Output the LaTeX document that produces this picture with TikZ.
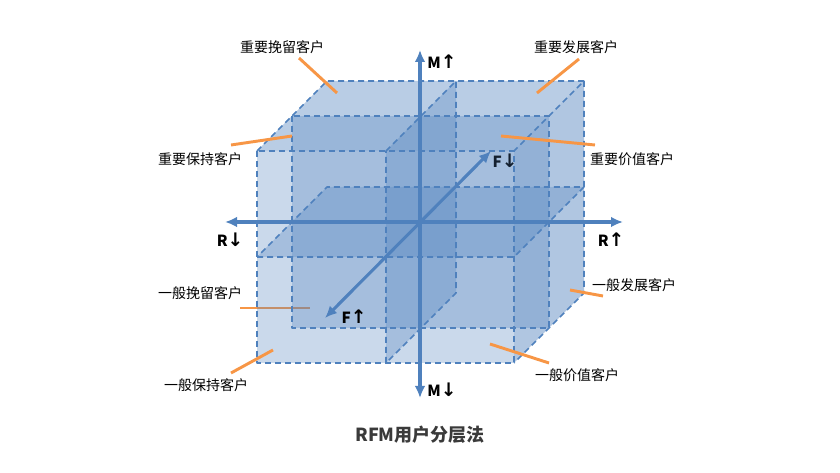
\documentclass[tikz,border=0pt]{standalone}
\usepackage{fontspec}
\setmainfont{Noto Sans CJK SC}
\newfontfamily\arrowfont{DejaVu Sans}
\usetikzlibrary{arrows.meta}
\definecolor{rfmblue}{HTML}{4F81BD}
\definecolor{rfmorange}{HTML}{F79646}
\definecolor{rfmtitle}{HTML}{3A3A3A}
\newcommand{\up}{{\arrowfont\bfseries\fontsize{14}{14}\selectfont ↑}}
\newcommand{\dn}{{\arrowfont\bfseries\fontsize{14}{14}\selectfont ↓}}

\begin{document}
\begin{tikzpicture}[x=0.75pt, y=-0.75pt, line join=bevel,
>={Latex[length=9pt,width=8pt]},
plane/.style={fill=rfmblue, fill opacity=#1},
plane/.default=0.3,
dashedge/.style={draw=rfmblue, line width=1.2pt, dash pattern=on 4.5pt off 3pt},
rfmaxis/.style={rfmblue, line width=2.3pt, <->},
lead/.style={rfmorange, line width=2.2pt},
seg/.style={font=\fontsize{10.5}{12}\selectfont, inner sep=0pt},
axlabel/.style={font=\fontsize{11.5}{13}\selectfont\bfseries, inner sep=0pt},
]
\useasboundingbox (0,0) rectangle (840,473);

% cube corners
\coordinate (f1) at (257,151); \coordinate (f2) at (514,151);
\coordinate (f3) at (514,363); \coordinate (f4) at (257,363);
\coordinate (b1) at (327,81);  \coordinate (b2) at (584,81);
\coordinate (b3) at (584,293);
% middle cuts
\coordinate (d1) at (292,116); \coordinate (d3) at (549,328);
\coordinate (h1) at (257,257); \coordinate (h2) at (514,257);
\coordinate (h3) at (584,187); \coordinate (h4) at (327,187);
\coordinate (v1) at (386,151); \coordinate (v2) at (456,81);
\coordinate (v3) at (456,293); \coordinate (v4) at (386,363);

% segment labels
\node[seg] (rr) at (282,47)  {重要挽留客户};
\node[seg] (rd) at (576,47)  {重要发展客户};
\node[seg] (rk) at (200,159) {重要保持客户};
\node[seg] (rv) at (632,159) {重要价值客户};
\node[seg] (gr) at (200,293) {一般挽留客户};
\node[seg] (gd) at (634,285) {一般发展客户};
\node[seg] (gk) at (206,385) {一般保持客户};
\node[seg] (gv) at (577,375) {一般价值客户};

\coordinate (gr1) at (240,308); \coordinate (gr2) at (310,308);
\draw[lead] (gr1) -- (gr2); % behind the front face

% planes
\fill[plane=0.4] (f1) -- (b1) -- (b2) -- (f2) -- cycle;
\fill[plane=0.45] (f2) -- (b2) -- (b3) -- (f3) -- cycle;
\fill[plane] (h1) -- (h2) -- (h3) -- (h4) -- cycle;
\fill[plane] (v1) -- (v2) -- (v3) -- (v4) -- cycle;
\fill[plane] (d1) rectangle (d3);
\fill[plane] (f1) rectangle (f3);

\draw[dashedge] (f1) -- (b1) -- (b2) -- (f2);
\draw[dashedge] (b2) -- (b3) -- (f3);
\draw[dashedge] (h1) -- (h2) -- (h3) -- (h4) -- cycle;
\draw[dashedge] (v1) -- (v2) -- (v3) -- (v4) -- cycle;
\draw[dashedge] (d1) rectangle (d3);
\draw[dashedge] (f1) rectangle (f3);

% leaders
\coordinate (rr1) at (299,58);  \coordinate (rr2) at (337,93);
\coordinate (rd1) at (579,59);  \coordinate (rd2) at (537,93);
\coordinate (rk1) at (231,145); \coordinate (rk2) at (292,136);
\coordinate (rv1) at (595,145); \coordinate (rv2) at (501,136);
\coordinate (gd1) at (603,296); \coordinate (gd2) at (570,290);
\coordinate (gk1) at (231,373); \coordinate (gk2) at (273,350);
\coordinate (gv1) at (549,363); \coordinate (gv2) at (490,344);
\draw[lead] (rr1) -- (rr2);
\draw[lead] (rd1) -- (rd2);
\draw[lead] (rk1) -- (rk2);
\draw[lead] (rv1) -- (rv2);
\draw[lead] (gd1) -- (gd2);
\draw[lead] (gk1) -- (gk2);
\draw[lead] (gv1) -- (gv2);

% axes
\coordinate (mu) at (420,50);  \coordinate (md) at (420,398);
\coordinate (rl) at (225,222); \coordinate (rh) at (623,222);
\coordinate (fl) at (325,318); \coordinate (fh) at (491,151);
\draw[rfmaxis] (md) -- (mu);
\draw[rfmaxis] (rl) -- (rh);
\draw[rfmaxis] (fl) -- (fh);

\node[axlabel] (mut) at (442,62)  {M\up};
\node[axlabel] (mdt) at (442,390) {M\dn};
\node[axlabel] (rlt) at (230,240) {R\dn};
\node[axlabel] (rht) at (611,240) {R\up};
\node[axlabel, text=black!75!rfmblue] (fht) at (505,161) {F\dn};
\node[axlabel] (flt) at (354,317) {F\up};

\node[font=\fontsize{13.5}{15}\selectfont\bfseries, text=rfmtitle] (title) at (420,435) {RFM用户分层法};
\end{tikzpicture}
\end{document}
